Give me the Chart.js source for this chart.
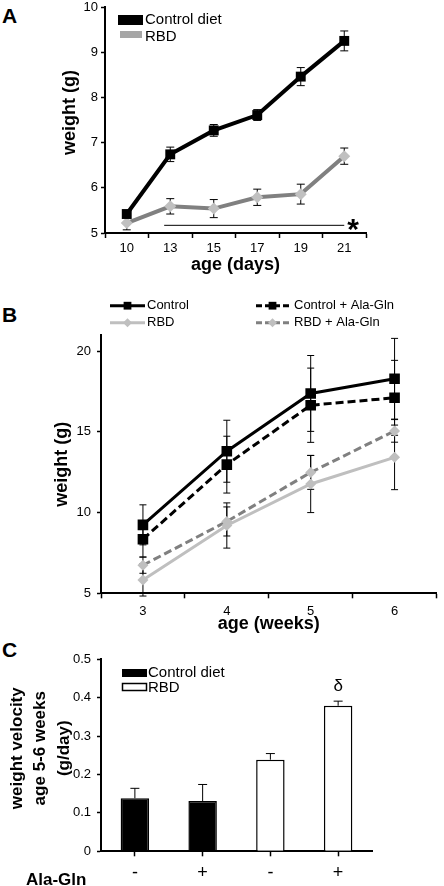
<!DOCTYPE html>
<html>
<head>
<meta charset="utf-8">
<script src="https://cdn.jsdelivr.net/npm/chart.js@4.4.1/dist/chart.umd.min.js"></script>
<style>
  body { margin: 0; background: #fff; width: 444px; height: 886px; position: relative; overflow: hidden;
         font-family: "Liberation Sans", Arial, sans-serif; color: #000; }
  canvas { position: absolute; left: 0; }
  .letter { position: absolute; left: 2px; font-size: 21px; font-weight: bold; line-height: 1; }
  #alaGln { position: absolute; left: 26px; top: 871px; font-size: 17px; font-weight: bold; line-height: 1; }
</style>
</head>
<body>
<div class="letter" style="top:5px">A</div>
<div class="letter" style="top:304px">B</div>
<div class="letter" style="top:639px">C</div>
<canvas id="chartA" width="444" height="290" style="top:0"></canvas>
<canvas id="chartB" width="444" height="345" style="top:290px"></canvas>
<canvas id="chartC" width="444" height="256" style="top:630px"></canvas>
<div id="alaGln">Ala-Gln</div>
<script>
// ── Data ──────────────────────────────────────────────────────────────────────
// Panel A: weight (g) by age in days
const dayLabels      = ['10', '13', '15', '17', '19', '21'];
const controlDiet    = [5.42, 6.74, 7.27, 7.61, 8.46, 9.25];
const controlDietErr = [0.06, 0.16, 0.13, 0.12, 0.20, 0.22];
const rbdDiet        = [5.22, 5.59, 5.54, 5.79, 5.86, 6.70];
const rbdDietErr     = [0.15, 0.17, 0.20, 0.18, 0.22, 0.18];
const sigSpan        = [0.86, 5.0];   // category index range under the * line
const sigLevel       = 5.17;

// Panel B: weight (g) by age in weeks
const weekLabels      = ['3', '4', '5', '6'];
const control         = [9.24, 13.8, 17.38, 18.29];
const controlErr      = [1.24, 1.92, 2.35, 2.5];
const controlAlaGln   = [8.35, 12.97, 16.65, 17.11];
const controlAlaGlnErr = [1.1, 1.76, 2.3, 2.32];
const rbd             = [5.83, 9.2, 11.77, 13.42];
const rbdErr          = [1.0, 1.4, 1.77, 2.0];
const rbdAlaGln       = [6.74, 9.45, 12.49, 15.06];
const rbdAlaGlnErr    = [0.5, 0.9, 1.05, 0.7];

// Panel C: weight velocity age 5-6 weeks (g/day)
const alaGlnLabels = ['-', '+', '-', '+'];
const velocityDiet = ['Control diet', 'Control diet', 'RBD', 'RBD'];
const velocity     = [0.138, 0.131, 0.2385, 0.379];
const velocityErr  = [0.026, 0.043, 0.016, 0.012];
const velocityNote = ['', '', '', 'δ'];

// ── Shared setup ──────────────────────────────────────────────────────────────
const FONT = '"Liberation Sans", Arial, sans-serif';
Chart.defaults.font.family = FONT;
Chart.defaults.color = '#000';

// force an axis box to a fixed size so the plot area lands where the figure has it
const fixWidth = w => scale => { scale.width = w; scale.paddingTop = 0; scale.paddingBottom = 0; };
const fixHeight = h => scale => { scale.height = h; scale.paddingLeft = 0; scale.paddingRight = 0; };

// error bars read from dataset.errors; 'up' draws only the upper whisker
const errorBars = {
  id: 'errorBars',
  beforeDatasetsDraw(chart, args, opts) {
    const { ctx } = chart;
    const y = chart.scales.y;
    ctx.save();
    ctx.strokeStyle = '#000';
    ctx.lineWidth = 1;
    chart.data.datasets.forEach((ds, i) => {
      if (!ds.errors) return;
      chart.getDatasetMeta(i).data.forEach((el, j) => {
        const v = ds.data[j], e = ds.errors[j];
        const top = y.getPixelForValue(v + e);
        const bot = ds.errorDir === 'up' ? y.getPixelForValue(v) : y.getPixelForValue(v - e);
        const x = el.x, c = opts.cap / 2;
        ctx.beginPath();
        ctx.moveTo(x, top); ctx.lineTo(x, bot);
        ctx.moveTo(x - c, top); ctx.lineTo(x + c, top);
        if (ds.errorDir !== 'up') { ctx.moveTo(x - c, bot); ctx.lineTo(x + c, bot); }
        ctx.stroke();
      });
    });
    ctx.restore();
  },
  afterDatasetsDraw(chart) {
    // notes above bars (e.g. the delta sign)
    const { ctx } = chart;
    const y = chart.scales.y;
    chart.data.datasets.forEach((ds, i) => {
      if (!ds.notes) return;
      ctx.save();
      ctx.font = '17px ' + FONT;
      ctx.textAlign = 'center';
      ctx.textBaseline = 'middle';
      ctx.fillStyle = '#000';
      chart.getDatasetMeta(i).data.forEach((el, j) => {
        if (!ds.notes[j]) return;
        ctx.fillText(ds.notes[j], el.x, y.getPixelForValue(ds.data[j] + (ds.errors ? ds.errors[j] : 0)) - 15);
      });
      ctx.restore();
    });
  }
};

// significance line with asterisk (panel A)
const sigBar = {
  id: 'sigBar',
  afterDatasetsDraw(chart, args, opts) {
    if (!opts.span) return;
    const { ctx, scales: { x, y } } = chart;
    const x0 = x.getPixelForValue(opts.span[0]);
    const x1 = x.getPixelForValue(opts.span[1]);
    const yy = y.getPixelForValue(opts.level);
    ctx.save();
    ctx.strokeStyle = '#000';
    ctx.lineWidth = 1;
    ctx.beginPath();
    ctx.moveTo(x0, yy); ctx.lineTo(x1, yy);
    ctx.stroke();
    ctx.font = 'bold 30px ' + FONT;
    ctx.fillStyle = '#000';
    ctx.textBaseline = 'alphabetic';
    ctx.fillText('*', x1 + 3, yy + 14);
    ctx.restore();
  }
};

// hand-placed key, like the one drawn inside the figure
const key = {
  id: 'key',
  afterDraw(chart, args, opts) {
    if (!opts.items) return;
    const { ctx } = chart;
    ctx.save();
    ctx.font = opts.size + 'px ' + FONT;
    ctx.textBaseline = 'middle';
    opts.items.forEach(it => {
      if (it.box) {
        ctx.fillStyle = it.fill;
        ctx.fillRect(it.box[0], it.box[1], it.box[2], it.box[3]);
        if (it.stroke) {
          ctx.strokeStyle = it.stroke;
          ctx.lineWidth = 1.5;
          ctx.strokeRect(it.box[0], it.box[1], it.box[2], it.box[3]);
        }
      }
      if (it.line) {
        ctx.strokeStyle = it.color;
        ctx.lineWidth = 3;
        ctx.setLineDash(it.dash || []);
        ctx.beginPath();
        ctx.moveTo(it.line[0], it.y); ctx.lineTo(it.line[1], it.y);
        ctx.stroke();
        ctx.setLineDash([]);
        ctx.fillStyle = it.markColor;
        Chart.helpers.drawPoint(ctx, { pointStyle: it.mark, radius: it.markR, borderWidth: 0 },
          (it.line[0] + it.line[1]) / 2, it.y);
      }
      ctx.fillStyle = '#000';
      ctx.fillText(it.text, it.textX, it.y);
    });
    ctx.restore();
  }
};

Chart.register(errorBars, sigBar, key);

const axisGrid = len => ({ drawOnChartArea: false, color: '#000', tickColor: '#000', tickLength: len, tickWidth: 1.5 });
const axisBorder = { color: '#000', width: 2 };
const titleFont = { size: 18, weight: 'bold' };

// ── Panel A ───────────────────────────────────────────────────────────────────
new Chart(document.getElementById('chartA'), {
  type: 'line',
  data: {
    labels: dayLabels,
    datasets: [
      { label: 'Control diet', data: controlDiet, errors: controlDietErr,
        borderColor: '#000', backgroundColor: '#000', borderWidth: 4,
        pointStyle: 'rect', pointRadius: 7, pointBorderWidth: 0 },
      { label: 'RBD', data: rbdDiet, errors: rbdDietErr,
        borderColor: '#808080', backgroundColor: '#c0c0c0', borderWidth: 4,
        pointStyle: 'rectRot', pointRadius: 6, pointBorderWidth: 0 }
    ]
  },
  options: {
    responsive: false, animation: false, events: [],
    layout: { padding: { left: 0, top: 4, right: 78, bottom: 0 } },
    plugins: {
      legend: { display: false }, tooltip: { enabled: false },
      errorBars: { cap: 8 },
      sigBar: { span: sigSpan, level: sigLevel },
      key: { size: 15, items: [
        { box: [118, 15, 25, 10], fill: '#000', text: 'Control diet', textX: 145, y: 20 },
        { box: [120, 31, 22, 7], fill: '#a6a6a6', text: 'RBD', textX: 145, y: 37 }
      ] }
    },
    scales: {
      x: {
        offset: true,
        grid: { ...axisGrid(5), offset: true },
        border: axisBorder,
        ticks: { font: { size: 13 }, padding: 3 },
        title: { display: true, text: 'age (days)', font: titleFont, padding: { top: 0, bottom: 14 } },
        afterFit: fixHeight(57)
      },
      y: {
        min: 5, max: 10,
        grid: axisGrid(4),
        border: axisBorder,
        ticks: { stepSize: 1, font: { size: 13 }, padding: 3 },
        title: { display: true, text: '   weight (g)', font: titleFont, padding: { top: 59, bottom: 0 } },
        afterFit: fixWidth(105)
      }
    }
  }
});

// ── Panel B ───────────────────────────────────────────────────────────────────
const bLine = (label, data, errors, color, dash, mark, markColor, r) => ({
  label, data, errors,
  borderColor: color, borderWidth: 3, borderDash: dash,
  pointStyle: mark, pointRadius: r, pointBorderWidth: 0,
  pointBackgroundColor: markColor, backgroundColor: markColor
});

new Chart(document.getElementById('chartB'), {
  type: 'line',
  data: {
    labels: weekLabels,
    datasets: [
      bLine('RBD', rbd, rbdErr, '#bfbfbf', [], 'rectRot', '#bfbfbf', 5.5),
      bLine('RBD + Ala-Gln', rbdAlaGln, rbdAlaGlnErr, '#808080', [8, 4], 'rectRot', '#bfbfbf', 5.5),
      bLine('Control + Ala-Gln', controlAlaGln, controlAlaGlnErr, '#000', [8, 4], 'rect', '#000', 7.5),
      bLine('Control', control, controlErr, '#000', [], 'rect', '#000', 7.5)
    ]
  },
  options: {
    responsive: false, animation: false, events: [],
    layout: { padding: { left: 0, top: 45, right: 1, bottom: 0 } },
    plugins: {
      legend: { display: false }, tooltip: { enabled: false },
      errorBars: { cap: 7 },
      key: { size: 13, items: [
        { line: [110, 145], y: 15.7, color: '#000', mark: 'rect', markR: 5.5, markColor: '#000', text: 'Control', textX: 147 },
        { line: [110, 145], y: 32.7, color: '#bfbfbf', mark: 'rectRot', markR: 4.5, markColor: '#bfbfbf', text: 'RBD', textX: 147 },
        { line: [256, 289], y: 15.7, color: '#000', dash: [6, 3], mark: 'rect', markR: 5.5, markColor: '#000', text: 'Control + Ala-Gln', textX: 294 },
        { line: [256, 289], y: 32.7, color: '#808080', dash: [6, 3], mark: 'rectRot', markR: 4.5, markColor: '#bfbfbf', text: 'RBD + Ala-Gln', textX: 294 }
      ] }
    },
    scales: {
      x: {
        offset: true,
        grid: { ...axisGrid(5), offset: true },
        border: axisBorder,
        ticks: { font: { size: 13 }, padding: 5 },
        title: { display: true, text: 'age (weeks)', font: titleFont, padding: { top: 0, bottom: 0 } },
        afterFit: fixHeight(41.7)
      },
      y: {
        min: 5, max: 21,
        grid: axisGrid(4),
        border: axisBorder,
        ticks: { stepSize: 5, font: { size: 13 }, padding: 6 },
        afterBuildTicks: scale => { scale.ticks = scale.ticks.filter(t => t.value % 5 === 0); },
        title: { display: true, text: 'weight (g)', font: titleFont, padding: { top: 51, bottom: 0 } },
        afterFit: fixWidth(101)
      }
    }
  }
});

// ── Panel C ───────────────────────────────────────────────────────────────────
new Chart(document.getElementById('chartC'), {
  type: 'bar',
  data: {
    labels: alaGlnLabels,
    datasets: [{
      data: velocity, errors: velocityErr, errorDir: 'up', notes: velocityNote,
      backgroundColor: velocityDiet.map(d => d === 'RBD' ? '#fff' : '#000'),
      borderColor: '#000', borderWidth: 1.5,
      barPercentage: 0.42, categoryPercentage: 1
    }]
  },
  options: {
    responsive: false, animation: false, events: [],
    layout: { padding: { left: 0, top: 29.3, right: 72, bottom: 0 } },
    plugins: {
      legend: { display: false }, tooltip: { enabled: false },
      errorBars: { cap: 9 },
      key: { size: 15, items: [
        { box: [122, 39, 25, 8], fill: '#000', text: 'Control diet', textX: 148, y: 43 },
        { box: [122.5, 53.5, 24, 7], fill: '#fff', stroke: '#000', text: 'RBD', textX: 148, y: 58 }
      ] }
    },
    scales: {
      x: {
        grid: { ...axisGrid(5), offset: false },
        border: axisBorder,
        ticks: { font: { size: 18 }, padding: 6 },
        afterFit: fixHeight(34.7)
      },
      y: {
        min: 0, max: 0.5,
        grid: axisGrid(4),
        border: axisBorder,
        ticks: { stepSize: 0.1, font: { size: 13 }, padding: 6 },
        title: { display: true, text: ['   weight velocity', '   age 5-6 weeks', '   (g/day)'],
                 font: { size: 17, weight: 'bold', lineHeight: 1.4 }, padding: { top: 5, bottom: 0 } },
        afterFit: fixWidth(101)
      }
    }
  }
});
</script>
</body>
</html>
